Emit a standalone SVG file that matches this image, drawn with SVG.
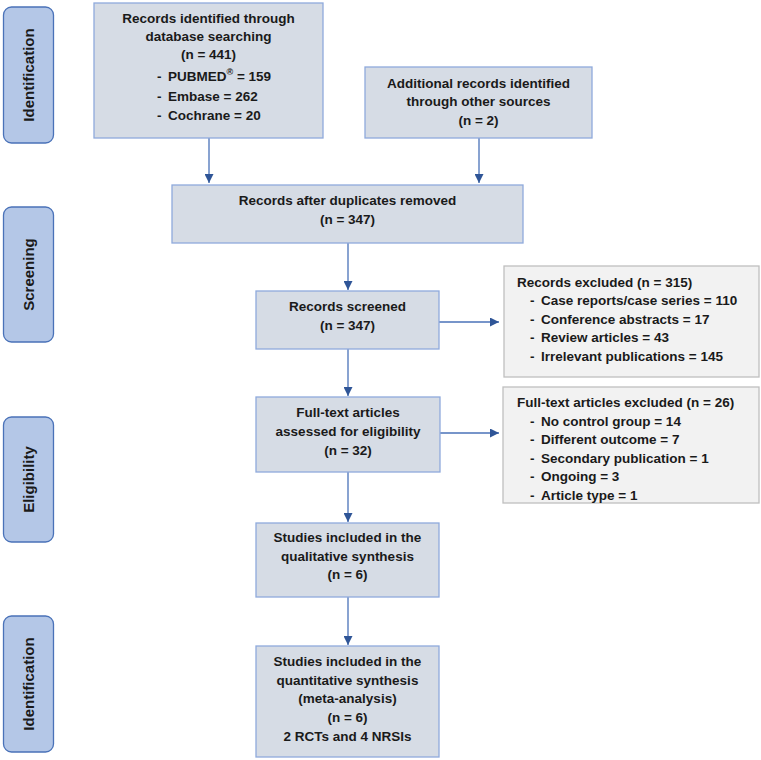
<svg xmlns="http://www.w3.org/2000/svg" width="761" height="760" viewBox="0 0 761 760">
<defs>
<style>
.stage{fill:#b4c7e7;stroke:#4a72b8;stroke-width:1.3}
.box{fill:#d6dce5;stroke:#8faadc;stroke-width:1.3}
.exc{fill:#f2f2f2;stroke:#bfbfbf;stroke-width:1.3}
text{font-family:"Liberation Sans",Arial,sans-serif;font-weight:bold;font-size:13.5px;fill:#1a1a1a}
.c{text-anchor:middle}
.st{font-size:15px;text-anchor:middle}
.conn line{stroke:#4a72b8;stroke-width:1.3}
</style>
<marker id="ah" viewBox="0 0 10 10" refX="10" refY="5" markerWidth="9" markerHeight="9" markerUnits="userSpaceOnUse" orient="auto">
<path d="M0,0 L10,5 L0,10 z" fill="#2f5597"/>
</marker>
</defs>
<rect width="761" height="760" fill="#ffffff"/>

<g id="stage-identification">
<rect class="stage" x="3.5" y="7" width="50" height="136" rx="8"/>
<text class="st" transform="translate(33.5,75) rotate(-90)">Identification</text>
</g>
<g id="stage-screening">
<rect class="stage" x="3.5" y="207" width="50" height="135" rx="8"/>
<text class="st" transform="translate(33.5,274.5) rotate(-90)">Screening</text>
</g>
<g id="stage-eligibility">
<rect class="stage" x="3.5" y="417" width="50" height="125" rx="8"/>
<text class="st" transform="translate(33.5,479.5) rotate(-90)">Eligibility</text>
</g>
<g id="stage-identification2">
<rect class="stage" x="3.5" y="616" width="50" height="136" rx="8"/>
<text class="st" transform="translate(33.5,684) rotate(-90)">Identification</text>
</g>

<g id="connectors" class="conn">
<line x1="209" y1="138" x2="209" y2="183" marker-end="url(#ah)"/>
<line x1="479" y1="138" x2="479" y2="183" marker-end="url(#ah)"/>
<line x1="348" y1="243" x2="348" y2="290" marker-end="url(#ah)"/>
<line x1="348" y1="349" x2="348" y2="396" marker-end="url(#ah)"/>
<line x1="348" y1="472" x2="348" y2="522" marker-end="url(#ah)"/>
<line x1="348" y1="597" x2="348" y2="645" marker-end="url(#ah)"/>
<line x1="439" y1="322" x2="499" y2="322" marker-end="url(#ah)"/>
<line x1="440" y1="433" x2="499" y2="433" marker-end="url(#ah)"/>
</g>

<g id="db-search">
<rect class="box" x="94" y="3" width="229" height="135"/>
<text class="c" x="208.5" y="23">Records identified through</text>
<text class="c" x="208.5" y="41">database searching</text>
<text class="c" x="208.5" y="59">(n = 441)</text>
<text x="157" y="81">-<tspan x="168">PUBMED</tspan><tspan font-size="9" dy="-6">®</tspan><tspan dy="6"> = 159</tspan></text>
<text x="157" y="100.5">-<tspan x="168">Embase = 262</tspan></text>
<text x="157" y="119.5">-<tspan x="168">Cochrane = 20</tspan></text>
</g>

<g id="other-sources">
<rect class="box" x="365" y="67" width="227" height="71"/>
<text class="c" x="478.5" y="87.5">Additional records identified</text>
<text class="c" x="478.5" y="106">through other sources</text>
<text class="c" x="478.5" y="124.5">(n = 2)</text>
</g>

<g id="dedup">
<rect class="box" x="172" y="185" width="351" height="58"/>
<text class="c" x="347.5" y="205">Records after duplicates removed</text>
<text class="c" x="347.5" y="223.5">(n = 347)</text>
</g>

<g id="screened">
<rect class="box" x="256" y="291" width="183" height="58"/>
<text class="c" x="347.5" y="311">Records screened</text>
<text class="c" x="347.5" y="330">(n = 347)</text>
</g>

<g id="fulltext">
<rect class="box" x="256" y="397" width="184" height="75"/>
<text class="c" x="348" y="417">Full-text articles</text>
<text class="c" x="348" y="436">assessed for eligibility</text>
<text class="c" x="348" y="454.5">(n = 32)</text>
</g>

<g id="qualitative">
<rect class="box" x="256" y="523" width="183" height="74"/>
<text class="c" x="347.5" y="542">Studies included in the</text>
<text class="c" x="347.5" y="560.5">qualitative synthesis</text>
<text class="c" x="347.5" y="579">(n = 6)</text>
</g>

<g id="quantitative">
<rect class="box" x="256" y="646" width="183" height="111"/>
<text class="c" x="347.5" y="666">Studies included in the</text>
<text class="c" x="347.5" y="684.5">quantitative synthesis</text>
<text class="c" x="347.5" y="703">(meta-analysis)</text>
<text class="c" x="347.5" y="722">(n = 6)</text>
<text class="c" x="347.5" y="740.5">2 RCTs and 4 NRSIs</text>
</g>

<g id="records-excluded">
<rect class="exc" x="504" y="266" width="255" height="111"/>
<text x="517" y="287">Records excluded (n = 315)</text>
<text x="530" y="305">-<tspan x="541">Case reports/case series = 110</tspan></text>
<text x="530" y="323.5">-<tspan x="541">Conference abstracts = 17</tspan></text>
<text x="530" y="342">-<tspan x="541">Review articles = 43</tspan></text>
<text x="530" y="360.5">-<tspan x="541">Irrelevant publications = 145</tspan></text>
</g>

<g id="fulltext-excluded">
<rect class="exc" x="503" y="387" width="256" height="116"/>
<text x="517" y="407">Full-text articles excluded (n = 26)</text>
<text x="530" y="425.5">-<tspan x="541">No control group = 14</tspan></text>
<text x="530" y="444">-<tspan x="541">Different outcome = 7</tspan></text>
<text x="530" y="462.5">-<tspan x="541">Secondary publication = 1</tspan></text>
<text x="530" y="481">-<tspan x="541">Ongoing = 3</tspan></text>
<text x="530" y="499.5">-<tspan x="541">Article type = 1</tspan></text>
</g>
</svg>
